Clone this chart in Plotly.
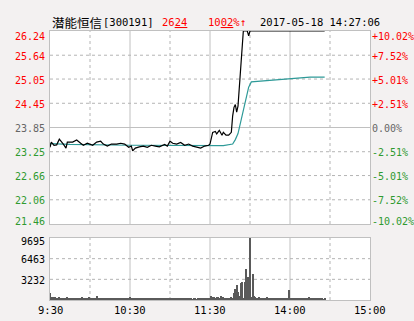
import plotly.graph_objects as go

# ---------------- data ----------------
stock_name = "潜能恒信"
stock_code = "[300191]"
last_price_txt = ("26", "24")
change_txt = ("10", "02", "%↑")
stamp = "2017-05-18 14:27:06"
pre_close = 23.85

price_times = ["09:30", "09:31", "09:33", "09:35", "09:37", "09:39", "09:40", "09:42", "09:43", "09:47",
               "09:50", "09:53", "09:55", "09:58", "10:02", "10:05", "10:08", "10:10", "10:13", "10:16",
               "10:20", "10:23", "10:26", "10:29", "10:31", "10:32", "10:34", "10:37", "10:40", "10:43",
               "10:46", "10:49", "10:52", "10:56", "10:58", "11:00", "11:02", "11:05", "11:08", "11:11",
               "11:14", "11:17", "11:20", "11:23", "11:26", "11:29", "13:00", "13:01", "13:02", "13:04",
               "13:05", "13:07", "13:09", "13:10", "13:12", "13:14", "13:16", "13:17", "13:18", "13:19",
               "13:20", "13:21", "13:22", "13:23", "13:24", "13:25", "13:28", "13:29", "13:30", "14:26"]
price_vals = [23.36, 23.49, 23.41, 23.42, 23.56, 23.49, 23.44, 23.34, 23.49, 23.49,
              23.54, 23.46, 23.41, 23.46, 23.41, 23.49, 23.51, 23.44, 23.39, 23.44,
              23.44, 23.46, 23.44, 23.36, 23.39, 23.27, 23.34, 23.37, 23.39, 23.36,
              23.41, 23.39, 23.37, 23.43, 23.39, 23.51, 23.46, 23.44, 23.48, 23.41,
              23.44, 23.39, 23.37, 23.34, 23.39, 23.41, 23.44, 23.61, 23.73, 23.75,
              23.69, 23.78, 23.66, 23.73, 23.66, 23.66, 23.73, 24.14, 24.35, 24.42,
              24.23, 24.38, 24.92, 25.37, 25.86, 26.24, 26.24, 26.12, 26.24, 26.24]

avg_times = ["09:30", "09:45", "10:30", "11:30", "13:10", "13:17", "13:19", "13:21", "13:23", "13:25",
             "13:27", "13:29", "13:31", "13:45", "13:58", "14:10", "14:15", "14:26"]
avg_vals = [23.45, 23.43, 23.41, 23.40, 23.40, 23.44, 23.55, 23.70, 24.00, 24.25,
            24.55, 24.85, 24.98, 25.02, 25.06, 25.08, 25.10, 25.10]

# per-minute volume, morning starting 09:30, afternoon starting 13:00
vol_am = [1150, 420, 470, 380, 470, 300, 350, 420, 300, 380,
          300, 350, 250, 420, 300, 250, 300, 350, 250, 300,
          380, 300, 250, 300, 420, 350, 300, 250, 300, 470,
          300, 350, 250, 300, 250, 620, 300, 250, 300, 250,
          250, 300, 250, 300, 200, 250, 300, 250, 200, 250,
          300, 250, 200, 250, 300, 250, 200, 300, 250, 300,
          470, 300, 250, 200, 250, 300, 250, 200, 250, 300,
          250, 200, 250, 300, 250, 200, 250, 300, 250, 200,
          250, 300, 250, 200, 250, 300, 250, 350, 250, 200,
          250, 200, 250, 300, 250, 200, 250, 200, 250, 300,
          250, 200, 150, 200, 250, 300, 200, 150, 200, 250,
          150, 200, 200, 250, 150, 200, 200, 250, 200, 250]
vol_pm = [200, 620, 500, 470, 350, 500, 470, 350, 620, 300,
          470, 350, 300, 250, 300, 350, 470, 300, 1140, 1720,
          2350, 1300, 600, 2610, 2870, 300, 2870, 4800, 3550, 3550,
          9695, 400, 4100, 620, 470, 300, 350, 470, 300, 250,
          350, 300, 250, 420, 300, 250, 300, 350, 250, 300,
          250, 300, 250, 200, 250, 300, 250, 200, 250, 1560,
          300, 250, 200, 300, 250, 200, 250, 300, 250, 200,
          300, 250, 350, 300, 420, 300, 350, 250, 300, 250,
          200, 250, 200, 250, 200, 150, 200]

x_tick_vals = ["09:30", "10:30", "11:30", "14:00", "15:00"]
x_tick_text = ["9:30", "10:30", "11:30", "14:00", "15:00"]
grid_times = ["10:00", "11:00", "13:30", "14:30"]
solid_times = ["10:30", "11:30", "14:00"]
price_ticks = [26.24, 25.64, 25.05, 24.45, 23.85, 23.25, 22.66, 22.06, 21.46]
pct_ticks = ["+10.02%", "+7.52%", "+5.01%", "+2.51%", "0.00%", "-2.51%", "-5.01%", "-7.52%", "-10.02%"]
vol_ticks = [9695, 6463, 3232]


def tidx(t):
    h, m = map(int, t.split(":"))
    mins = h * 60 + m
    if mins <= 11 * 60 + 30:
        return mins - (9 * 60 + 30)
    return 120 + mins - 13 * 60


W, H = 414, 321
RED, GREEN, GRAY = "#ff0000", "#2f9a2f", "#666666"
BORDER, GRID = "#c0c0c0", "#b4b4b4"
MONO = "DejaVu Sans Mono"

px_l, px_r = 50, 370
pr_top, pr_bot = 31, 224
vo_top, vo_bot = 238, 300


def xd(a, b):
    return [a / W, b / W]


def yd(top, bot):
    return [1 - bot / H, 1 - top / H]


fig = go.Figure()
fig.add_trace(go.Scatter(x=[tidx(t) for t in avg_times], y=avg_vals, mode="lines",
                         line=dict(color="#2e9a98", width=1.2), xaxis="x", yaxis="y"))
fig.add_trace(go.Scatter(x=[tidx(t) for t in price_times], y=price_vals, mode="lines",
                         line=dict(color="#000000", width=1.2), xaxis="x", yaxis="y"))
vol = vol_am + vol_pm
fig.add_trace(go.Bar(x=list(range(len(vol))), y=vol, width=0.8,
                     marker=dict(color="#5a5a5a", line=dict(width=0)), xaxis="x2", yaxis="y2"))

lo, hi = min(price_ticks), max(price_ticks)
vmax = max(vol_ticks)
axis_common = dict(showline=True, mirror=True, linecolor=BORDER, linewidth=1,
                   showgrid=False, zeroline=False,
                   showticklabels=False, ticks="", fixedrange=True)
fig.update_layout(
    template="none",
    width=W, height=H, margin=dict(l=0, r=0, t=0, b=0), autosize=False,
    paper_bgcolor="#f3f1f1", plot_bgcolor="#ffffff", showlegend=False, bargap=0,
    xaxis=dict(domain=xd(px_l, px_r), range=[0, 240], anchor="y", **axis_common),
    yaxis=dict(domain=yd(pr_top, pr_bot), range=[lo, hi], anchor="x", **axis_common),
    xaxis2=dict(domain=xd(px_l, px_r), range=[0, 240], anchor="y2", **axis_common),
    yaxis2=dict(domain=yd(vo_top, vo_bot), range=[0, vmax], anchor="x2", **axis_common),
)

dash = dict(color=GRID, width=1, dash="dot")
solid = dict(color=BORDER, width=1)
# vertical grid
for t in grid_times:
    xv = tidx(t)
    fig.add_shape(type="line", xref="x", yref="y", x0=xv, x1=xv, y0=lo, y1=hi, line=dash, layer="below")
    fig.add_shape(type="line", xref="x2", yref="y2", x0=xv, x1=xv, y0=0, y1=vmax, line=dash, layer="below")
for t in solid_times:
    xv = tidx(t)
    fig.add_shape(type="line", xref="x", yref="y", x0=xv, x1=xv, y0=lo, y1=hi, line=solid, layer="below")
    fig.add_shape(type="line", xref="x2", yref="y2", x0=xv, x1=xv, y0=0, y1=vmax, line=solid, layer="below")
# horizontal grid
for v in price_ticks[1:-1]:
    ln = solid if abs(v - pre_close) < 0.005 else dash
    fig.add_shape(type="line", xref="x", yref="y", x0=0, x1=240, y0=v, y1=v, line=ln, layer="below")
for v in vol_ticks[1:]:
    fig.add_shape(type="line", xref="x2", yref="y2", x0=0, x1=240, y0=v, y1=v, line=dash, layer="below")

ann = []


def color_for(v):
    if abs(v - pre_close) < 0.005:
        return GRAY
    return RED if v > pre_close else GREEN


n = len(price_ticks)
for i, (v, p) in enumerate(zip(price_ticks, pct_ticks)):
    shift = -1
    if i == 0:
        shift = -5
    elif i == n - 1:
        shift = 3
    c = color_for(v)
    ann.append(dict(x=47 / W, xref="paper", y=v, yref="y", text=f"{v:.2f}", showarrow=False,
                    xanchor="right", yanchor="middle", yshift=shift, font=dict(family=MONO, size=10, color=c)))
    ann.append(dict(x=370 / W, xref="paper", y=v, yref="y", text=p, showarrow=False,
                    xanchor="left", yanchor="middle", yshift=shift, font=dict(family=MONO, size=10, color=c)))

for i, v in enumerate(vol_ticks):
    ann.append(dict(x=47 / W, xref="paper", y=v, yref="y2", text=str(v), showarrow=False,
                    xanchor="right", yanchor="middle", yshift=-3 if i == 0 else -1,
                    font=dict(family=MONO, size=10, color="#000000")))

for t, lab in zip(x_tick_vals, x_tick_text):
    ann.append(dict(x=tidx(t) if t != "15:00" else 240, xref="x2", y=1 - 310 / H, yref="paper", text=lab,
                    showarrow=False, xanchor="center", yanchor="middle",
                    font=dict(family=MONO, size=10.5, color="#000000")))

hy = 1 - 22 / H
ann.append(dict(x=50 / W, xref="paper", y=hy, yref="paper", text=stock_name, showarrow=False,
                xanchor="left", yanchor="middle", font=dict(family="Noto Sans CJK SC", size=12.5, color="#000000")))
ann.append(dict(x=101 / W, xref="paper", y=hy, yref="paper", text=stock_code, showarrow=False,
                xanchor="left", yanchor="middle", font=dict(family=MONO, size=10.5, color="#000000")))
ann.append(dict(x=160 / W, xref="paper", y=hy, yref="paper",
                text=f"{last_price_txt[0]}<u>{last_price_txt[1]}</u>", showarrow=False,
                xanchor="left", yanchor="middle", font=dict(family=MONO, size=10.5, color=RED)))
ann.append(dict(x=206 / W, xref="paper", y=hy, yref="paper",
                text=f"{change_txt[0]}<u>{change_txt[1]}</u>{change_txt[2]}", showarrow=False,
                xanchor="left", yanchor="middle", font=dict(family=MONO, size=10.5, color=RED)))
ann.append(dict(x=258 / W, xref="paper", y=hy, yref="paper", text=stamp, showarrow=False,
                xanchor="left", yanchor="middle", font=dict(family=MONO, size=10.5, color="#000000")))

fig.update_layout(annotations=ann)
fig.write_html("out.html", config={"displayModeBar": False})
